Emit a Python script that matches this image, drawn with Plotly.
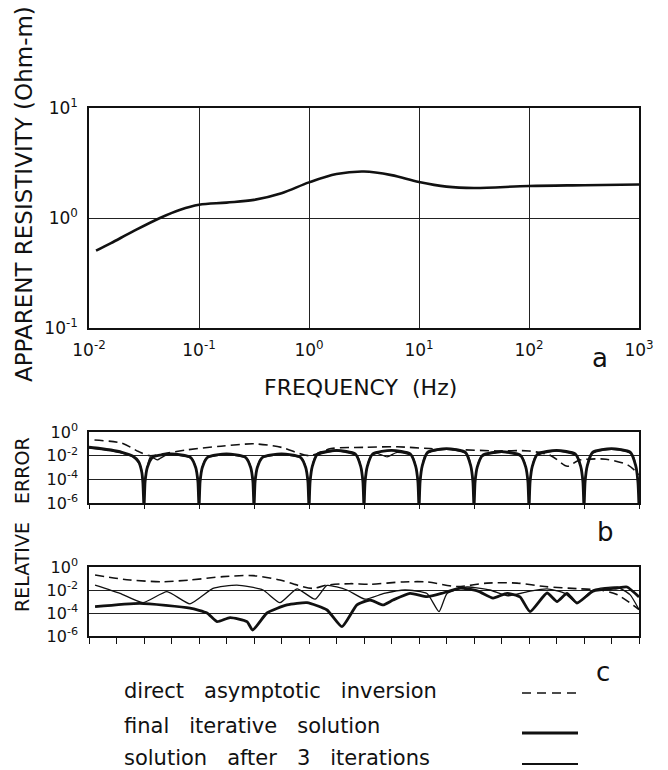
import plotly.graph_objects as go

W, H = 668, 770

# ---------------- data (log10 values) ----------------
# Panel a: apparent resistivity vs frequency
log_freq_a = [-1.936, -1.8, -1.6, -1.355, -1.17, -1.0, -0.75, -0.5, -0.25, 0.0, 0.25,
              0.5, 0.75, 1.0, 1.25, 1.5, 2.0, 2.5, 3.0]
log_rho_a = [-0.297, -0.228, -0.122, 0.0, 0.075, 0.12, 0.14, 0.165, 0.225, 0.324, 0.40,
             0.423, 0.39, 0.327, 0.285, 0.273, 0.291, 0.298, 0.304]

# Panel b: relative error of resistivity
b_final_x = [-2.0, -1.9, -1.8, -1.7, -1.6, -1.55, -1.52, -1.51, -1.5,
             -1.49, -1.47, -1.42, -1.25, -1.08, -1.03, -1.01, -1.0,
             -0.99, -0.97, -0.92, -0.75, -0.58, -0.53, -0.51, -0.5,
             -0.49, -0.47, -0.42, -0.25, -0.08, -0.03, -0.01, 0.0,
             0.01, 0.03, 0.08, 0.25, 0.42, 0.47, 0.49, 0.5,
             0.51, 0.53, 0.58, 0.75, 0.92, 0.97, 0.99, 1.0,
             1.01, 1.03, 1.08, 1.25, 1.42, 1.47, 1.49, 1.5,
             1.51, 1.53, 1.58, 1.75, 1.92, 1.97, 1.99, 2.0,
             2.01, 2.03, 2.08, 2.25, 2.42, 2.47, 2.49, 2.5,
             2.51, 2.53, 2.58, 2.75, 2.92, 2.97, 2.99, 3.0]
b_final_y = [-1.27, -1.38, -1.52, -1.72, -2.05, -2.5, -3.4, -4.3, -6.4,
             -4.2, -3.0, -2.12, -1.85, -2.12, -3.0, -4.2, -6.4,
             -4.2, -3.0, -2.12, -1.85, -2.12, -3.0, -4.2, -6.4,
             -4.2, -3.0, -2.12, -1.85, -2.12, -3.0, -4.2, -6.4,
             -4.2, -2.9, -1.85, -1.55, -1.85, -2.9, -4.2, -6.4,
             -4.2, -2.9, -1.85, -1.55, -1.85, -2.9, -4.2, -6.4,
             -4.2, -2.85, -1.7, -1.4, -1.7, -2.85, -4.2, -6.4,
             -4.2, -2.95, -1.95, -1.65, -1.95, -2.95, -4.2, -6.4,
             -4.2, -2.9, -1.85, -1.55, -1.85, -2.9, -4.2, -6.4,
             -4.2, -2.85, -1.7, -1.4, -1.7, -2.85, -4.2, -6.4]

b_iter3_x = [-2.0, -1.8, -1.6, -1.53, -1.515, -1.5,
             -1.485, -1.44, -1.38, -1.3, -1.2, -1.06, -1.015, -1.0,
             -0.985, -0.94, -0.75, -0.56, -0.515, -0.5,
             -0.485, -0.44, -0.25, -0.06, -0.015, 0.0,
             0.015, 0.06, 0.25, 0.44, 0.485, 0.5,
             0.515, 0.56, 0.62, 0.71, 0.8, 0.94, 0.985, 1.0,
             1.015, 1.06, 1.25, 1.44, 1.485, 1.5,
             1.515, 1.56, 1.75, 1.94, 1.985, 2.0,
             2.015, 2.06, 2.25, 2.44, 2.485, 2.5,
             2.515, 2.56, 2.75, 2.94, 2.985, 3.0]
b_iter3_y = [-1.35, -1.6, -2.1, -2.9, -3.7, -5.8,
             -3.7, -2.1, -2.35, -1.95, -1.95, -2.3, -3.7, -5.8,
             -3.7, -2.25, -1.92, -2.25, -3.7, -5.8,
             -3.7, -2.25, -1.92, -2.25, -3.7, -5.8,
             -3.7, -2.05, -1.62, -2.05, -3.7, -5.8,
             -3.7, -2.05, -1.8, -2.1, -1.72, -2.05, -3.7, -5.8,
             -3.7, -1.9, -1.47, -1.9, -3.7, -5.8,
             -3.7, -2.15, -1.72, -2.15, -3.7, -5.8,
             -3.7, -2.05, -1.62, -2.05, -3.7, -5.8,
             -3.7, -1.9, -1.47, -1.9, -3.7, -5.8]

b_direct_x = [-1.95, -1.7, -1.55, -1.45, -1.3, -1.1, -0.8, -0.5, -0.25, 0.0, 0.2, 0.5,
              0.8, 1.1, 1.4, 1.7, 2.0, 2.2, 2.35, 2.45, 2.7, 2.9, 3.0]
b_direct_y = [-0.68, -0.95, -1.65, -2.0, -1.8, -1.5, -1.2, -1.0, -1.3, -2.0, -1.4, -1.3,
              -1.25, -1.4, -1.5, -1.6, -1.6, -2.0, -2.9, -2.4, -2.3, -2.8, -3.6]

# Panel c: relative error of a second quantity
c_iter3_x = [-1.945, -1.718, -1.509, -1.291, -1.082, -0.873, -0.655, -0.418, -0.264, -0.109,
             0.055, 0.164, 0.345, 0.509, 0.682, 0.873, 1.073, 1.182, 1.255, 1.436, 1.645,
             1.809, 2.009, 2.164, 2.327, 2.436, 2.582, 2.8, 2.918, 3.0]
c_iter3_y = [-1.57, -2.29, -3.1, -2.14, -3.2, -1.86, -1.57, -2.0, -3.1, -1.9,
             -2.8, -1.6, -2.0, -2.8, -2.3, -2.0, -2.3, -3.88, -2.3, -1.74, -2.0,
             -2.5, -2.1, -1.9, -2.3, -3.13, -2.0, -1.74, -2.4, -3.7]

c_final_x = [-1.945, -1.536, -1.082, -0.927, -0.836, -0.718, -0.564, -0.512, -0.382, -0.2,
             -0.018, 0.164, 0.3, 0.436, 0.555, 0.673, 0.764, 0.918, 1.073, 1.218, 1.373,
             1.536, 1.673, 1.8, 1.918, 2.009, 2.164, 2.255, 2.345, 2.436, 2.582, 2.8,
             2.891, 3.0]
c_final_y = [-3.45, -3.16, -3.57, -4.0, -4.75, -4.4, -4.75, -5.48, -4.0, -3.3,
             -3.1, -3.74, -5.19, -3.3, -2.87, -3.3, -2.87, -2.29, -2.58, -2.26, -1.83,
             -2.1, -2.7, -2.29, -2.6, -3.88, -2.26, -3.0, -2.29, -3.13, -2.1, -1.83,
             -1.74, -2.6]

c_direct_x = [-1.945, -1.627, -1.327, -1.082, -0.782, -0.509, -0.264, -0.109, 0.036, 0.164,
              0.373, 0.555, 0.855, 1.073, 1.345, 1.618, 1.891, 2.145, 2.464, 2.645, 2.8, 3.0]
c_direct_y = [-0.70, -1.13, -1.28, -1.13, -0.84, -0.75, -1.13, -1.57, -1.86, -1.57,
              -1.45, -1.5, -1.3, -1.3, -1.7, -1.4, -1.4, -1.7, -1.9, -2.0, -2.4, -3.7]

freq_ticks_a = [-2, -1, 0, 1, 2, 3]
rho_ticks_a = [-1, 0, 1]
err_ticks = [-6, -4, -2, 0]

legend_labels = ["direct asymptotic inversion", "final iterative solution",
                 "solution after 3 iterations"]


def lin(v):
    return [10 ** e for e in v]


def pow_label(e):
    return "10<sup>%d</sup>" % e


FONT = "DejaVu Sans"
INK = "#111111"

fig = go.Figure()

# panel a
fig.add_trace(go.Scatter(x=lin(log_freq_a), y=lin(log_rho_a), mode="lines",
                         line=dict(color=INK, width=2.6, shape="spline", smoothing=1.0),
                         xaxis="x", yaxis="y", showlegend=False))

# panel b
fig.add_trace(go.Scatter(x=lin(b_iter3_x), y=lin(b_iter3_y), mode="lines",
                         line=dict(color=INK, width=1.3, shape="spline", smoothing=0.6),
                         xaxis="x2", yaxis="y2", showlegend=False))
fig.add_trace(go.Scatter(x=lin(b_final_x), y=lin(b_final_y), mode="lines",
                         line=dict(color=INK, width=2.8, shape="spline", smoothing=0.6),
                         xaxis="x2", yaxis="y2", showlegend=False))
fig.add_trace(go.Scatter(x=lin(b_direct_x), y=lin(b_direct_y), mode="lines",
                         line=dict(color=INK, width=1.6, dash="9px,5px", shape="spline",
                                   smoothing=0.8),
                         xaxis="x2", yaxis="y2", showlegend=False))

# panel c
fig.add_trace(go.Scatter(x=lin(c_iter3_x), y=lin(c_iter3_y), mode="lines",
                         line=dict(color=INK, width=1.3, shape="spline", smoothing=0.5),
                         xaxis="x3", yaxis="y3", showlegend=False))
fig.add_trace(go.Scatter(x=lin(c_final_x), y=lin(c_final_y), mode="lines",
                         line=dict(color=INK, width=2.8, shape="spline", smoothing=0.5),
                         xaxis="x3", yaxis="y3", showlegend=False))
fig.add_trace(go.Scatter(x=lin(c_direct_x), y=lin(c_direct_y), mode="lines",
                         line=dict(color=INK, width=1.6, dash="9px,5px", shape="spline",
                                   smoothing=0.8),
                         xaxis="x3", yaxis="y3", showlegend=False))


def px_x(p):
    return p / W


def px_y(p):
    return 1 - p / H


XDOM = [px_x(89), px_x(639)]
tickfont = dict(family=FONT, size=17, color=INK)

common_x = dict(type="log", range=[-2, 3], domain=XDOM, showline=True, mirror=True,
                linecolor=INK, linewidth=1.5, zeroline=False, automargin=False)

fig.update_layout(
    width=W, height=H, margin=dict(l=0, r=0, t=0, b=0, pad=0, autoexpand=False),
    paper_bgcolor="white", plot_bgcolor="white",
    xaxis=dict(**common_x, anchor="y", showgrid=True, gridcolor="#222222", gridwidth=1,
               tickvals=lin(freq_ticks_a), ticktext=[pow_label(e) for e in freq_ticks_a],
               ticks="", tickfont=tickfont, ticklabelstandoff=6),
    yaxis=dict(type="log", range=[-1, 1], domain=[px_y(328), px_y(108)], anchor="x",
               showline=True, mirror=True, linecolor=INK, linewidth=1.5, zeroline=False,
               automargin=False,
               showgrid=True, gridcolor="#222222", gridwidth=1,
               tickvals=lin(rho_ticks_a), ticktext=[pow_label(e) for e in rho_ticks_a],
               ticks="", tickfont=tickfont, ticklabelstandoff=6),
    xaxis2=dict(**common_x, anchor="y2", showgrid=False, showticklabels=False,
                ticks="outside", ticklen=4, tickwidth=1.2, tickcolor=INK,
                tickvals=[10 ** (k / 2) for k in range(-4, 7)]),
    yaxis2=dict(type="log", range=[-6, 0], domain=[px_y(503), px_y(432)], anchor="x2",
                showline=True, mirror=True, linecolor=INK, linewidth=1.5, zeroline=False,
                automargin=False,
                showgrid=True, gridcolor="#222222", gridwidth=1,
                tickvals=lin(err_ticks), ticktext=[pow_label(e) for e in err_ticks],
                ticks="", tickfont=dict(family=FONT, size=16, color=INK),
                ticklabelstandoff=6),
    xaxis3=dict(**common_x, anchor="y3", showgrid=False, showticklabels=False,
                ticks="outside", ticklen=6, tickwidth=1.2, tickcolor=INK,
                tickvals=[10 ** (k / 4) for k in range(-8, 13)]),
    yaxis3=dict(type="log", range=[-6, 0], domain=[px_y(636), px_y(567)], anchor="x3",
                showline=True, mirror=True, linecolor=INK, linewidth=1.5, zeroline=False,
                automargin=False,
                showgrid=True, gridcolor="#222222", gridwidth=1,
                tickvals=lin(err_ticks), ticktext=[pow_label(e) for e in err_ticks],
                ticks="", tickfont=dict(family=FONT, size=16, color=INK),
                ticklabelstandoff=6),
    showlegend=False,
)


def note(text, x, y, size, angle=0, xanchor="center"):
    fig.add_annotation(text=text, x=px_x(x), y=px_y(y), xref="paper", yref="paper",
                       showarrow=False, textangle=angle, xanchor=xanchor, yanchor="middle",
                       font=dict(family=FONT, size=size, color=INK))


note("APPARENT RESISTIVITY (Ohm-m)", 24, 194, 23, angle=-90)
note("FREQUENCY\u00a0\u00a0(Hz)", 360, 387, 22)
note("a", 600, 358, 26)
note("RELATIVE\u00a0\u00a0\u00a0ERROR", 22, 525, 19, angle=-90)
note("b", 605, 532, 26)
note("c", 603, 672, 26)

leg_y = [691, 726, 758]
for lab, yy in zip(legend_labels, leg_y):
    note(lab.replace(" ", "\u00a0\u00a0\u00a0"), 122, yy, 21, xanchor="left")

# legend keys
fig.add_shape(type="line", xref="paper", yref="paper", x0=px_x(522), x1=px_x(578),
              y0=px_y(693), y1=px_y(693), line=dict(color=INK, width=1.6, dash="9px,6px"))
fig.add_shape(type="line", xref="paper", yref="paper", x0=px_x(522), x1=px_x(578),
              y0=px_y(733), y1=px_y(733), line=dict(color=INK, width=3))
fig.add_shape(type="line", xref="paper", yref="paper", x0=px_x(522), x1=px_x(578),
              y0=px_y(764), y1=px_y(764), line=dict(color=INK, width=2))

fig.write_html("out.html")
